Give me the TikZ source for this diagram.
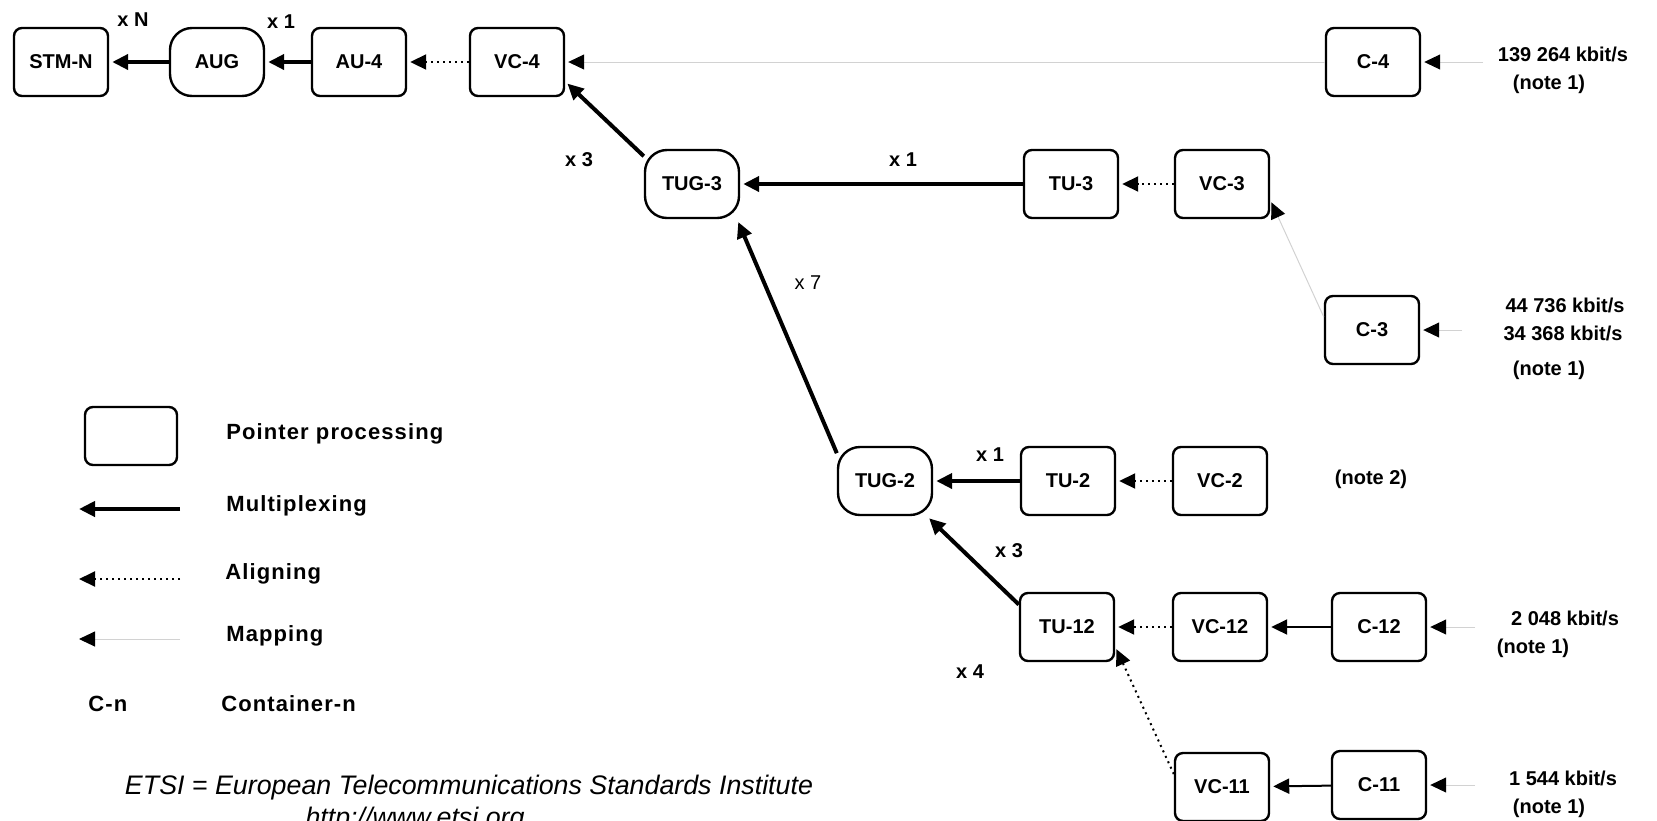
\documentclass[tikz,border=0pt]{standalone}
\usepackage{fontspec}
\setmainfont{Liberation Sans}
\usetikzlibrary{arrows.meta}

\begin{document}
\begin{tikzpicture}[x=0.5pt,y=-0.5pt,
  box/.style={draw,line width=1.2pt,rounded corners=4pt,minimum width=47pt,minimum height=34pt,inner sep=1pt,font=\bfseries\fontsize{10}{12}\selectfont},
  grp/.style={box,rounded corners=11pt},
  lbl/.style={inner sep=1pt,font=\bfseries\fontsize{10}{12}\selectfont},
  lgd/.style={anchor=west,inner sep=1pt,font=\bfseries\fontsize{11}{13}\selectfont\addfontfeature{LetterSpace=5}},
  mux/.style={line width=2pt,shorten >=1.5pt,-{Triangle[length=8pt,width=7.5pt]}},
  aln/.style={dotted,line width=1pt,shorten >=1.5pt,-{Triangle[length=8pt,width=7.5pt]}},
  mapg/.style={gray!35,line width=0.5pt,shorten >=1.5pt,-{Triangle[length=8pt,width=7.5pt,black]}},
  feed/.style={line width=1pt,shorten >=1.5pt,-{Triangle[length=8pt,width=7.5pt]}}]
\useasboundingbox (0,0) rectangle (1657,820);
\node[box] (stmn) at (61,62) {STM-N};
\node[grp] (aug) at (217,62) {AUG};
\node[box] (au4) at (359,62) {AU-4};
\node[box] (vc4) at (517,62) {VC-4};
\node[box] (c4) at (1373,62) {C-4};
\node[grp] (tug3) at (692,184) {TUG-3};
\node[box] (tu3) at (1071,184) {TU-3};
\node[box] (vc3) at (1222,184) {VC-3};
\node[box] (c3) at (1372,330) {C-3};
\node[grp] (tug2) at (885,481) {TUG-2};
\node[box] (tu2) at (1068,481) {TU-2};
\node[box] (vc2) at (1220,481) {VC-2};
\node[box] (tu12) at (1067,627) {TU-12};
\node[box] (vc12) at (1220,627) {VC-12};
\node[box] (c12) at (1379,627) {C-12};
\node[box] (vc11) at (1222,787) {VC-11};
\node[box] (c11) at (1379,785) {C-11};
\coordinate (in4) at (1483,62);
\coordinate (in3) at (1462,330);
\coordinate (in12) at (1475,627);
\coordinate (in11) at (1475,785);

\draw[mux] (aug) -- (stmn);
\draw[mux] (au4) -- (aug);
\draw[aln] (vc4) -- (au4);
\draw[mapg] (c4) -- (vc4);
\draw[mapg] (in4) -- (c4);
\draw[mux] (tug3.150) -- (vc4.-22);
\draw[mux] (tu3) -- (tug3);
\draw[aln] (vc3) -- (tu3);
\draw[mapg] (c3.165) -- (vc3.-18);
\draw[mapg] (in3) -- (c3);
\draw[mux] (tug2.150) -- (tug3.-38);
\draw[mux] (tu2) -- (tug2);
\draw[aln] (vc2) -- (tu2);
\draw[mux] (tu12.155) -- (tug2.-40);
\draw[aln] (vc12) -- (tu12);
\draw[feed] (c12) -- (vc12);
\draw[mapg] (in12) -- (c12);
\draw[aln] (vc11.165) -- (tu12.-22);
\draw[feed] (c11) -- (vc11);
\draw[mapg] (in11) -- (c11);

\node[lbl] (xn) at (133,20) {x N};
\node[lbl] (xau) at (281,22) {x 1};
\node[lbl] (xtug3) at (579,160) {x 3};
\node[lbl] (xtu3) at (903,160) {x 1};
\node[lbl,font=\fontsize{10}{12}\selectfont] (xtug2) at (808,283) {x 7};
\node[lbl] (xtu2) at (990,455) {x 1};
\node[lbl] (xtu12) at (1009,551) {x 3};
\node[lbl] (xvc11) at (970,672) {x 4};

\node[lbl] (r4) at (1563,54) {139 264 kbit/s};
\node[lbl] (n4) at (1549,84) {(note 1)};
\node[lbl] (r3a) at (1565,305) {44 736 kbit/s};
\node[lbl] (r3b) at (1563,333) {34 368 kbit/s};
\node[lbl] (n3) at (1549,370) {(note 1)};
\node[lbl] (n2) at (1371,479) {(note 2)};
\node[lbl] (r12) at (1565,618) {2 048 kbit/s};
\node[lbl] (n12) at (1533,648) {(note 1)};
\node[lbl] (r11) at (1563,778) {1 544 kbit/s};
\node[lbl] (n11) at (1549,808) {(note 1)};

\node[box,minimum width=46pt,minimum height=29pt] (lgbox) at (131,436) {};
\node[lgd] (lgpp) at (224,434) {Pointer processing};
\coordinate (mxa) at (180,509); \coordinate (mxb) at (79,509);
\draw[mux,shorten >=0pt] (mxa) -- (mxb);
\node[lgd] (lgmx) at (224,506) {Multiplexing};
\coordinate (ala) at (180,579); \coordinate (alb) at (79,579);
\draw[aln,shorten >=0pt] (ala) -- (alb);
\node[lgd] (lgal) at (223,574) {Aligning};
\coordinate (mpa) at (180,639); \coordinate (mpb) at (79,639);
\draw[mapg,shorten >=0pt] (mpa) -- (mpb);
\node[lgd] (lgmp) at (224,636) {Mapping};
\node[lgd] (lgcn) at (86,704) {C-n};
\node[lgd] (lgcont) at (219,704) {Container-n};

\node[inner sep=0pt,font=\itshape\fontsize{13.4}{16}\selectfont] (etsi) at (469,788) {ETSI = European Telecommunications Standards Institute};
\node[inner sep=0pt,font=\itshape\fontsize{13.4}{16}\selectfont] (url) at (415,820) {http://www.etsi.org};
\end{tikzpicture}
\end{document}
